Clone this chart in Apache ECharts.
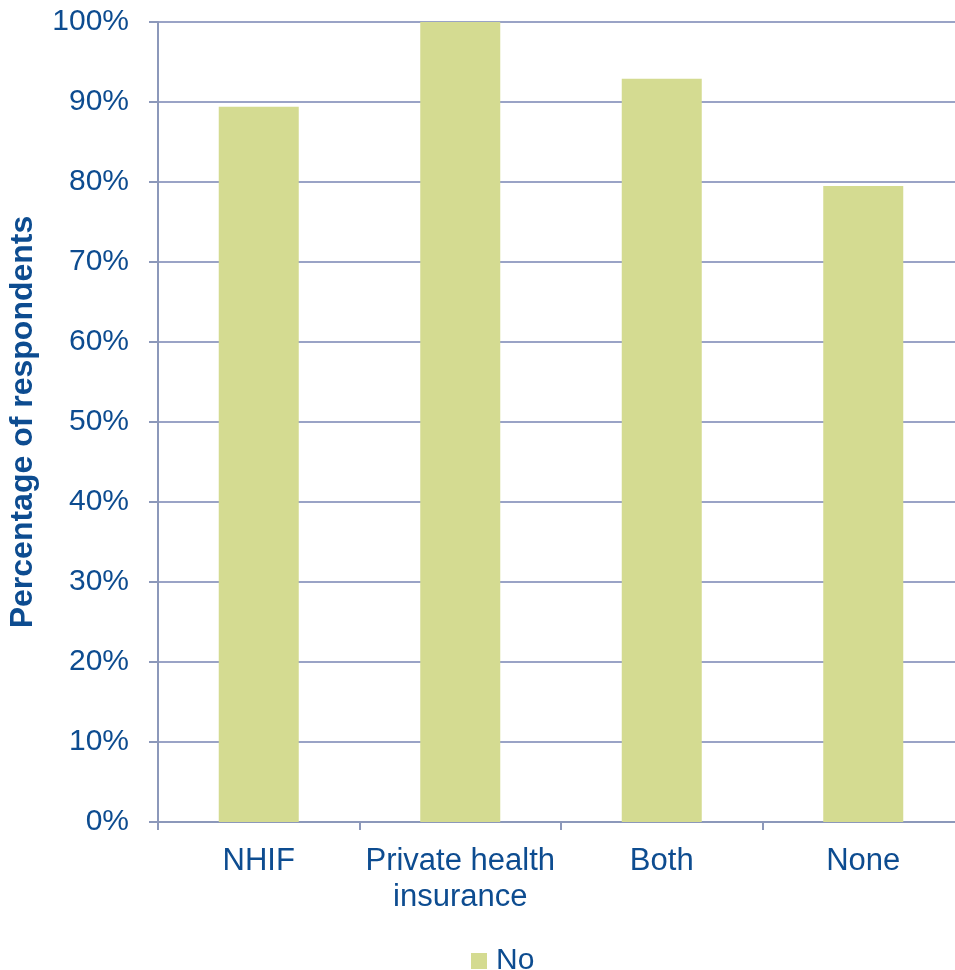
<!DOCTYPE html>
<html>
<head>
<meta charset="utf-8">
<script src="https://cdn.jsdelivr.net/npm/echarts@6/dist/echarts.min.js"></script>
<style>html,body{margin:0;padding:0;background:#fff;overflow:hidden}#c{width:955px;height:970px}</style>
</head>
<body>
<div id="c"></div>
<script>
const categories = ['NHIF', 'Private health\ninsurance', 'Both', 'None'];
const seriesName = 'No';
const noValues = [89.4, 100, 92.9, 79.5];
const yTicks = [0, 10, 20, 30, 40, 50, 60, 70, 80, 90, 100];

const textColor = '#0D4C90';
const gridColor = '#9AA3C6';
const font = 'Liberation Sans, Arial, sans-serif';
const chart = echarts.init(document.getElementById('c'), null, {renderer: 'canvas'});
chart.setOption({
  animation: false,
  textStyle: {fontFamily: font},
  grid: {left: 158, top: 22, width: 806, height: 800, containLabel: false, outerBoundsMode: 'none'},
  legend: {
    data: [seriesName], left: 466, top: 941, icon: 'rect', itemWidth: 16, itemHeight: 16, itemGap: 10,
    textStyle: {color: textColor, fontSize: 30, lineHeight: 30, fontFamily: font, padding: [0,0,0,4]}
  },
  xAxis: {
    type: 'category', data: categories,
    axisLine: {lineStyle: {color: '#8C98BA', width: 2}},
    axisTick: {show: true, length: 8, lineStyle: {color: '#8C98BA', width: 2}},
    axisLabel: {color: textColor, fontSize: 31, lineHeight: 36, margin: 21, interval: 0}
  },
  yAxis: {
    type: 'value', min: 0, max: 100, interval: 10,
    name: 'Percentage of respondents', nameLocation: 'middle', nameGap: 119, nameRotate: 90,
    nameTextStyle: {color: textColor, fontSize: 32, fontWeight: 'bold', fontFamily: font},
    axisLine: {show: true, lineStyle: {color: '#8C98BA', width: 2}},
    axisTick: {show: true, length: 9, lineStyle: {color: '#8C98BA', width: 2}},
    splitLine: {lineStyle: {color: gridColor, width: 2}},
    axisLabel: {color: textColor, fontSize: 30, margin: 29, formatter: v => yTicks.includes(v) ? v + '%' : ''}
  },
  series: [{
    name: seriesName, type: 'bar', data: noValues, barWidth: 80,
    itemStyle: {color: '#D4DB91'}
  }]
});
</script>
</body>
</html>
